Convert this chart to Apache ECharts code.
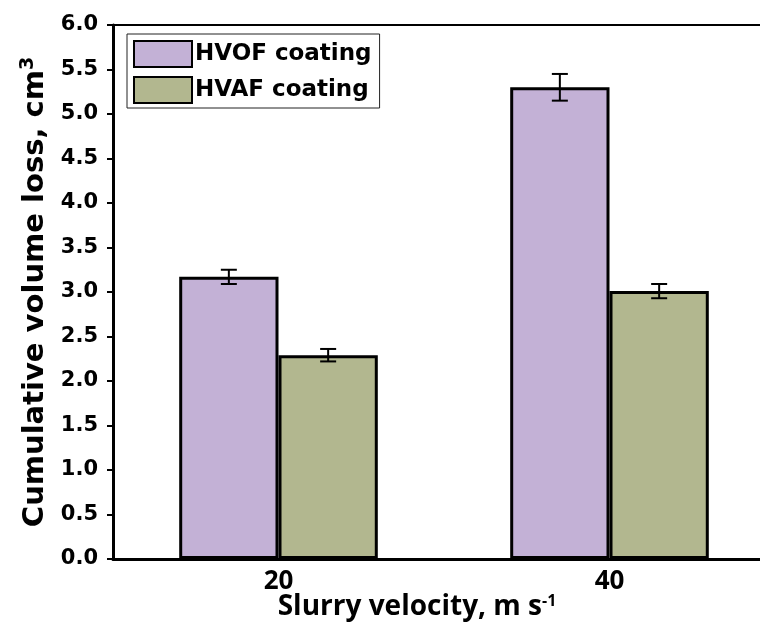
<!DOCTYPE html>
<html>
<head>
<meta charset="UTF-8">
<script src="https://cdn.jsdelivr.net/npm/echarts@6/dist/echarts.min.js"></script>
<style>
  html, body { margin: 0; padding: 0; background: #fff; overflow: hidden; }
  /* plot runs past the right edge of the picture, so the div is wider than the window */
  #chart { width: 790px; height: 636px; }
</style>
</head>
<body>
<div id="chart"></div>
<script>
// valores
const categories = ['20', '40'];
const hvofValues = [3.17, 5.30];
const hvafValues = [2.29, 3.01];
const hvofErr = [0.08, 0.15];
const hvafErr = [0.07, 0.08];

const BAR_FRAC = 0.3; // cada barra = 30% da categoria

function errData(vals, errs) {
  return vals.map((v, i) => [i, v - errs[i], v + errs[i]]);
}

function errRenderer(side) {
  return function (params, api) {
    const idx = api.value(0);
    const band = api.size([1, 0])[0];
    const off = side * band * BAR_FRAC / 2;
    const lo = api.coord([idx, api.value(1)]);
    const hi = api.coord([idx, api.value(2)]);
    const x = lo[0] + off;
    const cap = 8;
    const style = { stroke: '#000', lineWidth: 2 };
    return {
      type: 'group',
      children: [
        { type: 'line', shape: { x1: x, y1: hi[1], x2: x, y2: lo[1] }, style },
        { type: 'line', shape: { x1: x - cap, y1: hi[1], x2: x + cap, y2: hi[1] }, style },
        { type: 'line', shape: { x1: x - cap, y1: lo[1], x2: x + cap, y2: lo[1] }, style }
      ]
    };
  };
}

const wide = '"DejaVu Sans"';

const chart = echarts.init(document.getElementById('chart'));
chart.setOption({
  animation: false,
  title: {
    text: 'Slurry velocity, m s{sup|-1}',
    left: 412,
    top: 588,
    textAlign: 'center',
    textStyle: {
      fontFamily: 'Open Sans',
      fontWeight: 'bold',
      fontSize: 28,
      color: '#000',
      rich: {
        sup: { fontFamily: 'Open Sans', fontWeight: 'bold', fontSize: 16, color: '#000', verticalAlign: 'top', padding: [0, 0, 12, 0] }
      }
    }
  },
  legend: {
    left: 127,
    top: 34,
    orient: 'vertical',
    icon: 'rect',
    itemWidth: 58,
    itemHeight: 26,
    itemGap: 8,
    padding: [6, 8, 4, 6],
    borderColor: '#222',
    borderWidth: 1,
    selectedMode: false,
    textStyle: { fontFamily: wide, fontWeight: 'bold', fontSize: 23, color: '#000', padding: [0, 0, 0, -2] },
    data: ['HVOF coating', 'HVAF coating']
  },
  grid: {
    left: 113,
    top: 25,
    right: 15,
    bottom: 77,
    show: true,
    borderColor: '#000',
    borderWidth: 2,
    backgroundColor: 'transparent'
  },
  xAxis: {
    type: 'category',
    data: categories,
    axisLine: { lineStyle: { color: '#000', width: 3 } },
    axisTick: { alignWithLabel: true, length: 7, lineStyle: { color: '#000', width: 2 } },
    axisLabel: { margin: 10, fontFamily: 'Open Sans', fontWeight: 'bold', fontSize: 26, color: '#000' }
  },
  yAxis: {
    type: 'value',
    min: 0,
    max: 6,
    interval: 0.5,
    name: 'Cumulative volume loss, cm{sup|3}',
    nameLocation: 'middle',
    nameGap: 60,
    nameTextStyle: {
      fontFamily: wide,
      fontWeight: 'bold',
      fontSize: 29,
      color: '#000',
      rich: {
        sup: { fontFamily: wide, fontWeight: 'bold', fontSize: 19, color: '#000', verticalAlign: 'top', padding: [0, 0, 14, 0] }
      }
    },
    splitLine: { show: false },
    axisLine: { show: true, lineStyle: { color: '#000', width: 3 } },
    axisTick: { show: true, length: 6, lineStyle: { color: '#000', width: 2 } },
    axisLabel: {
      margin: 15,
      fontFamily: wide,
      fontWeight: 'bold',
      fontSize: 21,
      color: '#000',
      formatter: v => v.toFixed(1)
    }
  },
  series: [
    {
      name: 'HVOF coating',
      type: 'bar',
      data: hvofValues,
      barGap: '0%',
      barCategoryGap: '40%',
      itemStyle: { color: '#C3B1D6', borderColor: '#000', borderWidth: 3 }
    },
    {
      name: 'HVAF coating',
      type: 'bar',
      data: hvafValues,
      barGap: '0%',
      barCategoryGap: '40%',
      itemStyle: { color: '#B2B78F', borderColor: '#000', borderWidth: 3 }
    },
    {
      type: 'custom',
      renderItem: errRenderer(-1),
      data: errData(hvofValues, hvofErr),
      encode: { x: 0, y: [1, 2] },
      z: 10
    },
    {
      type: 'custom',
      renderItem: errRenderer(1),
      data: errData(hvafValues, hvafErr),
      encode: { x: 0, y: [1, 2] },
      z: 10
    }
  ]
});
</script>
</body>
</html>
